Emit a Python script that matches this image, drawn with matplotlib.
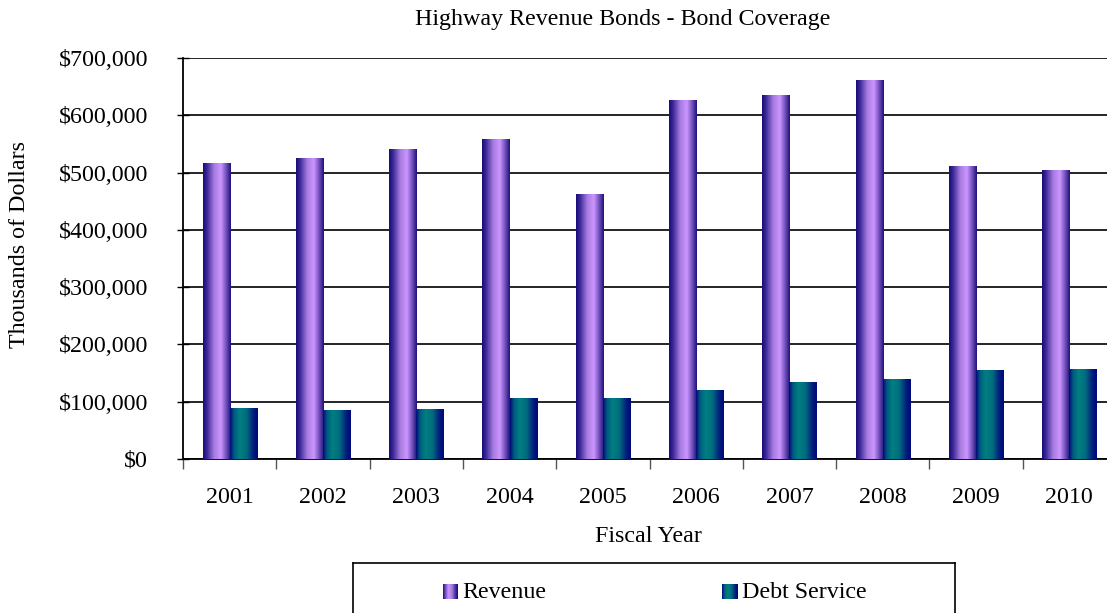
import matplotlib
matplotlib.use("Agg")
import matplotlib.pyplot as plt
import numpy as np
from matplotlib.colors import LinearSegmentedColormap
from matplotlib.ticker import FuncFormatter, FixedLocator

years = ["2001", "2002", "2003", "2004", "2005", "2006", "2007", "2008", "2009", "2010"]
revenue = [515000, 524000, 541000, 558000, 462000, 625000, 635000, 660000, 510000, 504000]
debt_service = [89000, 85500, 87000, 105000, 106000, 119000, 133000, 138000, 155000, 157000]

plt.rcParams['font.family'] = ['Liberation Serif', 'DejaVu Serif']

rev_cmap = LinearSegmentedColormap.from_list(
    "rev", [(0.0, "#1c1178"), (0.12, "#5a3ea8"), (0.36, "#cc96ff"), (0.6, "#a67be0"), (0.85, "#3f2a98"), (1.0, "#140c78")])
debt_cmap = LinearSegmentedColormap.from_list(
    "debt", [(0.0, "#000a7a"), (0.15, "#005c80"), (0.35, "#008080"), (0.6, "#006a80"), (0.85, "#001a7c"), (1.0, "#000878")])

W, H = 1107, 613
fig = plt.figure(figsize=(W / 100, H / 100), dpi=100)
ax = fig.add_axes([183 / W, 1 - 459 / H, (1116 - 183) / W, (459 - 58) / H])

x = np.arange(len(years))
bw = 0.29
grad = np.linspace(0, 1, 256).reshape(1, -1)
FS = 17.3

ax.set_xlim(-0.5, len(years) - 0.5)
ax.set_ylim(0, 700000)

ax.yaxis.set_major_locator(FixedLocator(np.arange(0, 700001, 100000)))
ax.grid(axis='y', color='black', linewidth=1.2, zorder=0)
ax.set_axisbelow(True)

rb = ax.bar(x, revenue, width=-bw, align='edge', color='none', edgecolor='none', zorder=2)
db = ax.bar(x, debt_service, width=bw, align='edge', color='none', edgecolor='none', zorder=2)
for bars, cmap in ((rb, rev_cmap), (db, debt_cmap)):
    for p in bars:
        x0, w, h = p.get_x(), p.get_width(), p.get_height()
        ax.imshow(grad, cmap=cmap, aspect='auto', interpolation='bilinear',
                  extent=(x0, x0 + w, 0, h), zorder=3)
ax.set_xlim(-0.5, len(years) - 0.5)
ax.set_ylim(0, 700000)

ax.yaxis.set_major_formatter(FuncFormatter(lambda v, p: "${:,.0f}".format(v)))
ax.tick_params(axis='y', direction='inout', length=8, width=1, labelsize=FS, pad=21, colors='black')
ax.set_xticks(x)
ax.set_xticklabels(years)
ax.set_xticks(np.arange(-0.5, len(years)), minor=True)
ax.tick_params(axis='x', which='major', length=0, labelsize=FS, pad=20)
ax.tick_params(axis='x', which='minor', length=7, width=1, color='#555555', direction='out')

for s in ('top', 'right'):
    ax.spines[s].set_visible(False)
ax.spines['left'].set_linewidth(1.3)
ax.spines['bottom'].set_linewidth(1.3)

fig.text(623 / W, 1 - 19 / H, "Highway Revenue Bonds - Bond Coverage", ha='center', va='center', fontsize=FS)
fig.text(648 / W, 1 - 537 / H, "Fiscal Year", ha='center', va='center', fontsize=FS)
fig.text(20 / W, 1 - 244 / H, "Thousands of Dollars", ha='center', va='center', rotation=90, fontsize=FS)

# legend box
lx0, ly0 = 353, 563
lax = fig.add_axes([lx0 / W, 0, (955 - lx0) / W, (H - ly0) / H])
lax.set_xlim(lx0, 955)
lax.set_ylim(H, ly0)
lax.set_xticks([])
lax.set_yticks([])
for s in lax.spines.values():
    s.set_linewidth(1.2)
    s.set_color('black')
lax.spines['bottom'].set_visible(False)
lax.imshow(grad, cmap=rev_cmap, aspect='auto', interpolation='bilinear', extent=(443, 458, 599, 584))
lax.imshow(grad, cmap=debt_cmap, aspect='auto', interpolation='bilinear', extent=(722, 738, 599, 584))
lax.set_xlim(lx0, 955)
lax.set_ylim(H, ly0)
lax.text(462, 592, "Revenue", ha='left', va='center', fontsize=FS)
lax.text(742, 592, "Debt Service", ha='left', va='center', fontsize=FS)

fig.savefig("out.png", dpi=100)
